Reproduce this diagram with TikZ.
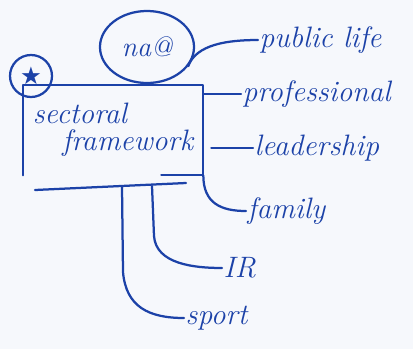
\documentclass[tikz,border=0pt]{standalone}
\usepackage{fontspec}
\usepackage{xcolor}
\usepackage{tikz}
\usetikzlibrary{shapes}
\usetikzlibrary{positioning}
\newfontfamily\symfont{DejaVu Sans}
\definecolor{ink}{RGB}{28,66,168}
\definecolor{paper}{RGB}{246,248,252}

\begin{document}
\begin{tikzpicture}[
  x=0.025cm, y=-0.025cm,
  pen/.style={draw=ink, line width=1.6pt, line cap=round, line join=round},
  scrawl/.style={text=ink, font=\fontsize{21}{22}\selectfont\itshape, inner sep=1pt, anchor=west}
]

\fill[paper] (0,0) rectangle (413,349);
\useasboundingbox (0,0) rectangle (413,349);

% the framework box (open at the bottom) and the two circles on it
\node[scrawl, anchor=center, align=left, minimum width=4.5cm, minimum height=2.25cm] (frame) at (113,130) {sectoral\\[-3pt]\quad framework};
\draw[pen] (frame.south west) -- (frame.north west) -- (frame.north east) -- (frame.south east) -- ++(-42,0);
\node[pen, circle, minimum size=1.05cm, inner sep=0pt, text=ink] (star) at (31,76) {\symfont\LARGE ★};
\node[pen, ellipse, minimum width=2.35cm, minimum height=1.8cm, text=ink, font=\fontsize{20}{22}\selectfont\itshape] (idea) at (147,47) {na@};

% base line under the box
\coordinate (base west) at (35,190);
\coordinate (base east) at (186,183);
\coordinate (sport root) at (122,187);
\coordinate (ir root) at (152,186);
\draw[pen] (base west) -- (base east);

% labels
\node[scrawl] (public) at (258,40) {public life};
\node[scrawl] (prof) at (241,94) {professional};
\node[scrawl] (lead) at (253,148) {leadership};
\node[scrawl] (family) at (246,211) {family};
\node[scrawl] (ir) at (222,268) {IR};
\node[scrawl] (sport) at (184,318) {sport};

% branches
\draw[pen] (idea.-25) .. controls +(8,-22) and +(-30,0) .. (public.west);
\draw[pen] (frame.east |- prof.west) -- (prof.west);
\draw[pen] ([xshift=0.2cm]frame.east |- lead.west) -- (lead.west);
\draw[pen] (frame.south east) .. controls +(0,28) and +(-25,0) .. (family.west);
\draw[pen] (ir root) -- ++(2,50) .. controls +(2,28) and +(-28,0) .. (ir.west);
\draw[pen] (sport root) -- ++(1,85) .. controls +(3,35) and +(-35,0) .. (sport.west);

\end{tikzpicture}
\end{document}
